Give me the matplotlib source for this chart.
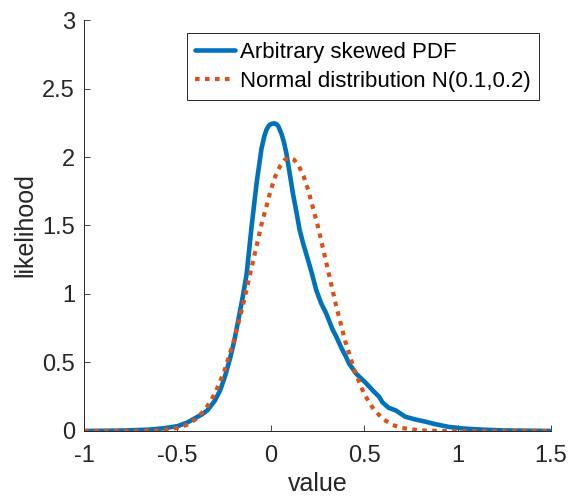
import matplotlib
matplotlib.use("Agg")
import matplotlib.pyplot as plt

# Arbitrary skewed PDF
skew_x = [-1.0, -0.8, -0.65, -0.573, -0.50, -0.45, -0.41, -0.37, -0.34, -0.30, -0.27, -0.245,
          -0.218, -0.195, -0.174, -0.15, -0.129, -0.103, -0.076, -0.05, -0.035, -0.023, -0.01,
          0.0, 0.018, 0.03, 0.04, 0.057, 0.07, 0.083, 0.10, 0.119, 0.137, 0.154, 0.175, 0.199,
          0.22, 0.243, 0.27, 0.296, 0.331, 0.35, 0.38, 0.403, 0.42, 0.456, 0.509, 0.55, 0.58,
          0.597, 0.63, 0.669, 0.72, 0.77, 0.828, 0.88, 0.952, 1.03, 1.13, 1.25, 1.5]
skew_y = [0.0, 0.003, 0.01, 0.02, 0.035, 0.06, 0.09, 0.12, 0.15, 0.22, 0.30, 0.40,
          0.53, 0.66, 0.81, 0.98, 1.15, 1.49, 1.81, 2.06, 2.15, 2.20, 2.23,
          2.24, 2.246, 2.24, 2.225, 2.17, 2.11, 2.03, 1.89, 1.73, 1.60, 1.47, 1.36, 1.25,
          1.15, 1.03, 0.93, 0.86, 0.74, 0.69, 0.60, 0.54, 0.49, 0.42, 0.35, 0.29, 0.25,
          0.21, 0.17, 0.15, 0.104, 0.085, 0.068, 0.05, 0.03, 0.018, 0.01, 0.004, 0.0]

# Normal distribution N(0.1,0.2)
norm_x = [-1.0, -0.8, -0.7, -0.6, -0.5, -0.45, -0.4, -0.35, -0.3, -0.25, -0.2, -0.15, -0.1,
          -0.05, 0.0, 0.025, 0.05, 0.075, 0.1, 0.125, 0.15, 0.175, 0.2, 0.25, 0.3, 0.35,
          0.4, 0.45, 0.5, 0.55, 0.6, 0.65, 0.7, 0.8, 0.9, 1.0, 1.5]
norm_y = [0.0, 0.0, 0.001, 0.004, 0.022, 0.045, 0.088, 0.159, 0.27, 0.432, 0.648, 0.913, 1.21,
          1.506, 1.76, 1.862, 1.934, 1.98, 1.995, 1.98, 1.934, 1.862, 1.76, 1.506, 1.21, 0.913,
          0.648, 0.432, 0.27, 0.159, 0.088, 0.045, 0.022, 0.004, 0.0, 0.0, 0.0]

labels = ["Arbitrary skewed PDF", "Normal distribution N(0.1,0.2)"]
xticks = [-1, -0.5, 0, 0.5, 1, 1.5]
xticklabels = ["-1", "-0.5", "0", "0.5", "1", "1.5"]
yticks = [0, 0.5, 1, 1.5, 2, 2.5, 3]
yticklabels = ["0", "0.5", "1", "1.5", "2", "2.5", "3"]

plt.rcParams['font.family'] = ['Liberation Sans', 'DejaVu Sans']
txt = '#262626'

fig = plt.figure(figsize=(5.69, 4.99), dpi=100)
ax = fig.add_axes([0.1476, 0.1363, 0.8208, 0.8236])

ax.plot(skew_x, skew_y, color='#0072BD', lw=3.3, label=labels[0],
        solid_capstyle='round', solid_joinstyle='round')
ax.plot(norm_x, norm_y, color='#D95319', lw=3.0, linestyle=(0, (1.1, 1.3)),
        label=labels[1], dash_capstyle='butt')

ax.set_xlim(-1, 1.5)
ax.set_ylim(0, 3)
ax.set_xticks(xticks)
ax.set_xticklabels(xticklabels)
ax.set_yticks(yticks)
ax.set_yticklabels(yticklabels)
ax.tick_params(direction='in', length=4, width=0.6, colors=txt, labelsize=17)
ax.tick_params(axis='x', pad=10)
ax.tick_params(axis='y', pad=6.5)
for s in ['top', 'right']:
    ax.spines[s].set_visible(False)
for s in ['left', 'bottom']:
    ax.spines[s].set_color(txt)
    ax.spines[s].set_linewidth(0.7)

ax.set_xlabel('value', fontsize=18, color=txt, labelpad=3.5)
ax.set_ylabel('likelihood', fontsize=18, color=txt, labelpad=3.5)

leg = ax.legend(loc='upper right', bbox_to_anchor=(0.974, 0.968), borderaxespad=0,
                fontsize=16, handlelength=1.8, handletextpad=0.2, borderpad=0.38,
                labelspacing=0.38, fancybox=False, framealpha=1)
leg.get_frame().set_edgecolor('#262626')
leg.get_frame().set_linewidth(0.7)
for t in leg.get_texts():
    t.set_color('black')

fig.savefig('out.png', dpi=100)
